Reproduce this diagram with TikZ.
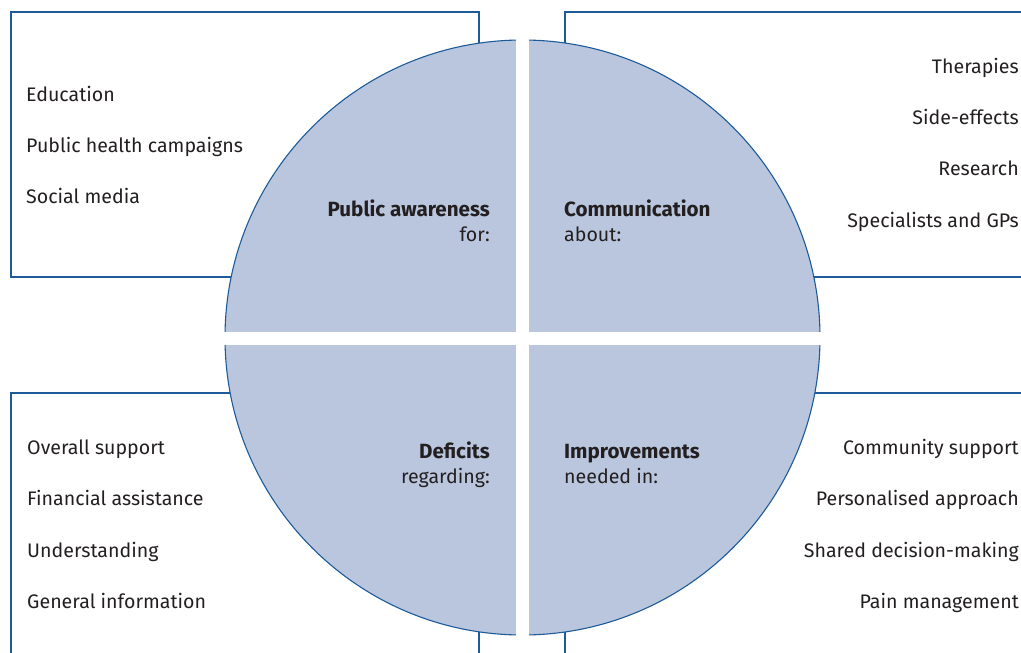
\documentclass[tikz,border=0pt]{standalone}
\usepackage{fontspec}
\setmainfont{Fira Sans}
\definecolor{edge}{HTML}{1D5A9A}
\definecolor{disc}{HTML}{BAC6DE}
\definecolor{ink}{HTML}{231F20}
\begin{document}
\begin{tikzpicture}[x=1pt,y=-1pt,
  boxline/.style={draw=edge,line width=1.1pt},
  item/.style={inner sep=0pt,text=ink,font=\fontsize{19.6}{22}\selectfont},
  litem/.style={item,anchor=base west},
  ritem/.style={item,anchor=base east},
  head/.style={item,font=\fontsize{20.6}{22}\selectfont\bfseries}]
\useasboundingbox (0,0) rectangle (1021,653);
\clip (0,0) rectangle (1021,653);
% boxes
\draw[boxline] (11,12) rectangle (479,277);
\draw[boxline] (565,12) rectangle (1040,277);
\draw[boxline] (11,393) rectangle (479,670);
\draw[boxline] (565,393) rectangle (1040,670);
% disc
\filldraw[fill=disc,draw=edge,line width=1.1pt] (522.5,337.5) circle[radius=297.5pt];
\fill[white] (516,30) rectangle (529,645);
\fill[white] (215,332) rectangle (830,345);
% headings
\node[head,anchor=base east] (paH) at (490,216) {Public awareness};
\node[item,anchor=base east] (paS) at (490,241) {for:};
\node[head,anchor=base west] (coH) at (564,216) {Communication};
\node[item,anchor=base west] (coS) at (564,241) {about:};
\node[head,anchor=base east] (deH) at (490,458) {Deficits};
\node[item,anchor=base east] (deS) at (490,483) {regarding:};
\node[head,anchor=base west] (imH) at (564,458) {Improvements};
\node[item,anchor=base west] (imS) at (564,483) {needed in:};
% top-left list
\node[litem] (tl1) at (26,101) {Education};
\node[litem] (tl2) at (26,152) {Public health campaigns};
\node[litem] (tl3) at (26,203) {Social media};
% top-right list
\node[ritem] (tr1) at (1019,73) {Therapies};
\node[ritem] (tr2) at (1019,124) {Side-effects};
\node[ritem] (tr3) at (1019,175) {Research};
\node[ritem] (tr4) at (1019,227) {Specialists and GPs};
% bottom-left list
\node[litem] (bl1) at (27,454) {Overall support};
\node[litem] (bl2) at (27,505) {Financial assistance};
\node[litem] (bl3) at (27,557) {Understanding};
\node[litem] (bl4) at (27,608) {General information};
% bottom-right list
\node[ritem] (br1) at (1019,454) {Community support};
\node[ritem] (br2) at (1019,505) {Personalised approach};
\node[ritem] (br3) at (1019,557) {Shared decision-making};
\node[ritem] (br4) at (1019,608) {Pain management};
\end{tikzpicture}
\end{document}
